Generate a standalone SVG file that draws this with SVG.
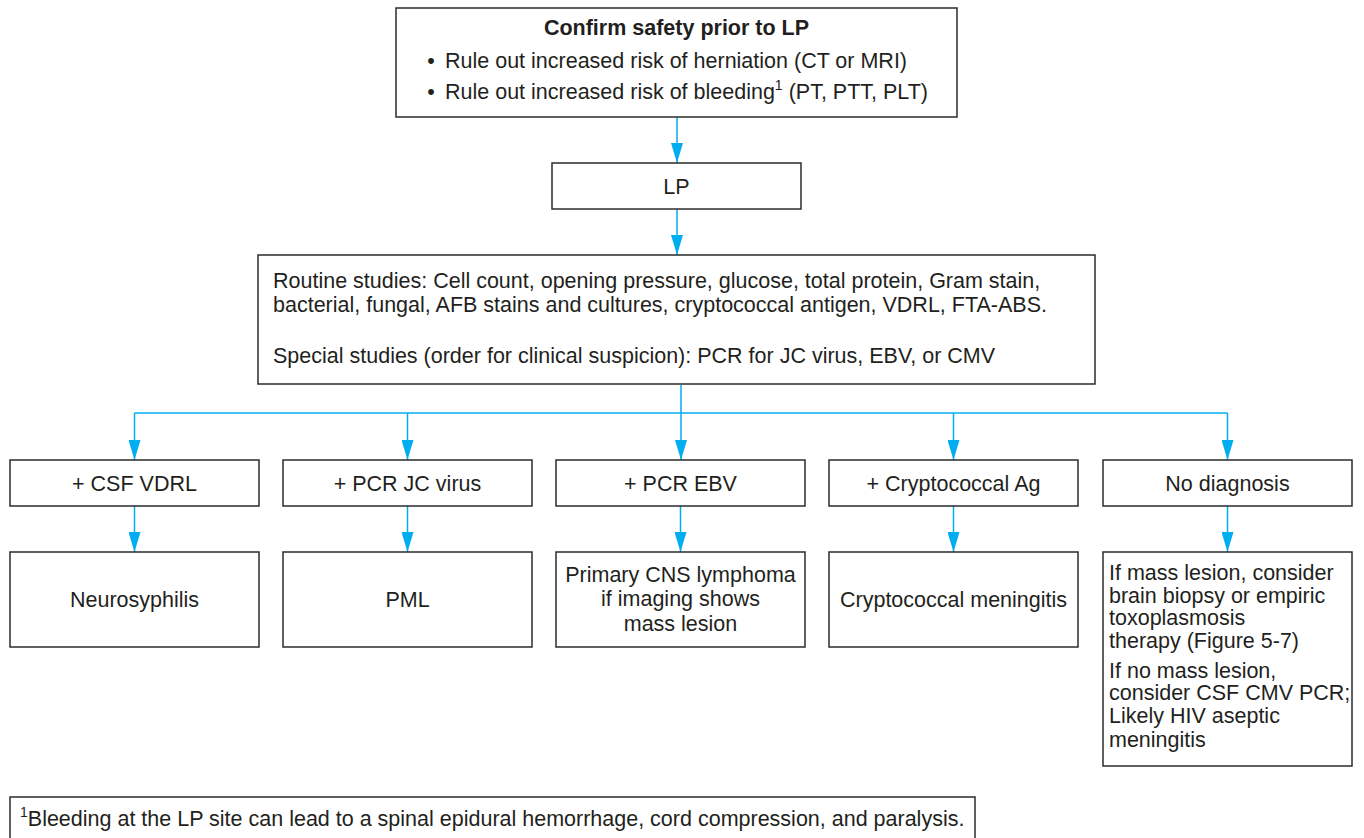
<svg xmlns="http://www.w3.org/2000/svg" width="1364" height="838" viewBox="0 0 1364 838">
<defs>
<style>
.box{fill:#fff;stroke:#2b2b2b;stroke-width:1.5}
.t{font-family:"Liberation Sans",Arial,sans-serif;font-size:21.5px;fill:#231f20}
.c{text-anchor:middle}
.b{font-weight:bold}
.con{stroke:#00aeef;stroke-width:1.5;fill:none}
</style>
<marker id="ah" markerUnits="userSpaceOnUse" markerWidth="20" markerHeight="12" refX="20" refY="6" orient="auto">
<path d="M0,0 L20,6 L0,12 z" fill="#00aeef"/>
</marker>
</defs>
<rect width="1364" height="838" fill="#fff"/>
<g id="connectors">
<line class="con" x1="677" y1="117" x2="677" y2="163" marker-end="url(#ah)"/>
<line class="con" x1="677" y1="209" x2="677" y2="255" marker-end="url(#ah)"/>
<polyline class="con" points="681,385 681,413"/>
<polyline class="con" points="134.5,413 1227.5,413"/>
<line class="con" x1="134.5" y1="413" x2="134.5" y2="460" marker-end="url(#ah)"/>
<line class="con" x1="407.5" y1="413" x2="407.5" y2="460" marker-end="url(#ah)"/>
<line class="con" x1="681" y1="413" x2="681" y2="460" marker-end="url(#ah)"/>
<line class="con" x1="953.5" y1="413" x2="953.5" y2="460" marker-end="url(#ah)"/>
<line class="con" x1="1227.5" y1="413" x2="1227.5" y2="460" marker-end="url(#ah)"/>
<line class="con" x1="134.5" y1="506" x2="134.5" y2="552" marker-end="url(#ah)"/>
<line class="con" x1="407.5" y1="506" x2="407.5" y2="552" marker-end="url(#ah)"/>
<line class="con" x1="680.5" y1="506" x2="680.5" y2="552" marker-end="url(#ah)"/>
<line class="con" x1="953.5" y1="506" x2="953.5" y2="552" marker-end="url(#ah)"/>
<line class="con" x1="1227.5" y1="506" x2="1227.5" y2="552" marker-end="url(#ah)"/>
</g>
<g id="safety">
<rect class="box" x="396" y="8" width="561" height="109"/>
<text class="t c b" x="676.5" y="35">Confirm safety prior to LP</text>
<text class="t c" x="431" y="68">•</text>
<text class="t" x="445" y="68">Rule out increased risk of herniation (CT or MRI)</text>
<text class="t c" x="431" y="99">•</text>
<text class="t" x="445" y="99">Rule out increased risk of bleeding<tspan font-size="14" dy="-9">1</tspan><tspan dy="9"> (PT, PTT, PLT)</tspan></text>
</g>
<g id="lp">
<rect class="box" x="552" y="163" width="249" height="46"/>
<text class="t c" x="676.5" y="194">LP</text>
</g>
<g id="studies">
<rect class="box" x="258" y="255" width="837" height="129"/>
<text class="t" x="273" y="288">Routine studies: Cell count, opening pressure, glucose, total protein, Gram stain,</text>
<text class="t" x="273" y="312">bacterial, fungal, AFB stains and cultures, cryptococcal antigen, VDRL, FTA-ABS.</text>
<text class="t" x="273" y="363">Special studies (order for clinical suspicion): PCR for JC virus, EBV, or CMV</text>
</g>
<g id="vdrl">
<rect class="box" x="10" y="460" width="249" height="46"/>
<text class="t c" x="134.5" y="491">+ CSF VDRL</text>
</g>
<g id="jc">
<rect class="box" x="283" y="460" width="249" height="46"/>
<text class="t c" x="407.5" y="491">+ PCR JC virus</text>
</g>
<g id="ebv">
<rect class="box" x="556" y="460" width="249" height="46"/>
<text class="t c" x="680.5" y="491">+ PCR EBV</text>
</g>
<g id="crypto">
<rect class="box" x="829" y="460" width="249" height="46"/>
<text class="t c" x="953.5" y="491">+ Cryptococcal Ag</text>
</g>
<g id="nodx">
<rect class="box" x="1103" y="460" width="249" height="46"/>
<text class="t c" x="1227.5" y="491">No diagnosis</text>
</g>
<g id="neurosyphilis">
<rect class="box" x="10" y="552" width="249" height="95"/>
<text class="t c" x="134.5" y="607">Neurosyphilis</text>
</g>
<g id="pml">
<rect class="box" x="283" y="552" width="249" height="95"/>
<text class="t c" x="407.5" y="607">PML</text>
</g>
<g id="lymphoma">
<rect class="box" x="556" y="552" width="249" height="95"/>
<text class="t c" x="680.5" y="582">Primary CNS lymphoma</text>
<text class="t c" x="680.5" y="606">if imaging shows</text>
<text class="t c" x="680.5" y="631">mass lesion</text>
</g>
<g id="meningitis">
<rect class="box" x="829" y="552" width="249" height="95"/>
<text class="t c" x="953.5" y="607">Cryptococcal meningitis</text>
</g>
<g id="nodx-detail">
<rect class="box" x="1103" y="552" width="249" height="214"/>
<text class="t" x="1109" y="580">If mass lesion, consider</text>
<text class="t" x="1109" y="603">brain biopsy or empiric</text>
<text class="t" x="1109" y="625">toxoplasmosis</text>
<text class="t" x="1109" y="648">therapy (Figure 5-7)</text>
<text class="t" x="1109" y="678">If no mass lesion,</text>
<text class="t" x="1109" y="700">consider CSF CMV PCR;</text>
<text class="t" x="1109" y="723">Likely HIV aseptic</text>
<text class="t" x="1109" y="747">meningitis</text>
</g>
<g id="footnote">
<rect class="box" x="10" y="797" width="965" height="46"/>
<text class="t" x="20" y="826"><tspan font-size="14" dy="-9">1</tspan><tspan dy="9">Bleeding at the LP site can lead to a spinal epidural hemorrhage, cord compression, and paralysis.</tspan></text>
</g>
</svg>
